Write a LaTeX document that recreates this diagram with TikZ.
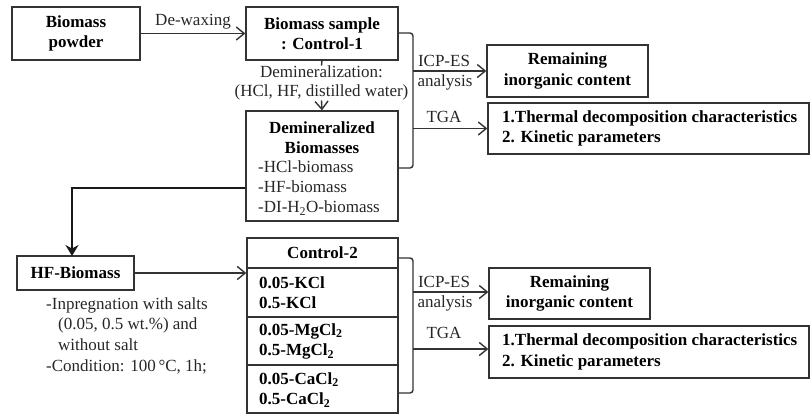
\documentclass[tikz,border=0pt]{standalone}
\usepackage{fontspec}
\setmainfont{Liberation Serif}
\usetikzlibrary{arrows.meta}
\begin{document}
\begin{tikzpicture}[x=1pt,y=-1pt,
  box/.style={draw=black!80, line width=1.3pt, inner sep=0pt},
  txt/.style={font=\fontsize{17}{20}\selectfont, inner sep=0pt, text=black!85},
  btxt/.style={font=\fontsize{17}{20.5}\selectfont\bfseries, inner sep=0pt},
  conn/.style={draw=black!80, line width=1.4pt},
  arr/.style={conn, -{Straight Barb[length=8pt,width=13pt,line width=1.4pt]}},
  bigarr/.style={draw=black!90, line width=2.2pt, -{Stealth[length=11pt,width=13pt]}},
  brace/.style={conn, rounded corners=3pt},
]
\useasboundingbox (0,0) rectangle (811,416);

% ---------- top part ----------
\node[box, btxt, align=center, minimum width=128pt, minimum height=53pt] (powder) at (76,33.5) {Biomass\\powder};
\node[box, btxt, align=center, minimum width=152pt, minimum height=53pt] (sample) at (322,33.5) {Biomass sample\\: Control-1};
\node[box, minimum width=152pt, minimum height=110pt] (demin) at (322,166) {};
\node[btxt, align=center] (deminhead) at (322,137.5) {Demineralized\\Biomasses};
\node[txt, align=left, anchor=west, font=\fontsize{17}{20}\selectfont] (deminlist) at (258,188) {-HCl-biomass\\-HF-biomass\\-DI-H\textsubscript{2}O-biomass};

\node[box, btxt, align=center, minimum width=161pt, minimum height=52pt] (rem1) at (567.5,71) {Remaining\\inorganic content};
\node[box, minimum width=321pt, minimum height=51pt] (therm1) at (648.5,128.5) {};
\node[btxt, align=left, anchor=west] (therm1t) at (502,128.5) {1.Thermal decomposition characteristics\\2. Kinetic parameters};

\draw[arr] (powder.east) -- (sample.west) node[txt, midway, above=4pt] (dewax) {De-waxing};

\node[txt, align=center, font=\fontsize{17}{19}\selectfont] (demtext) at (321.5,83) {Demineralization:\\(HCl, HF, distilled water)};
\draw[conn] (sample.south) -- (demtext.north);
\draw[arr] (demtext.south) -- (demin.north);

\coordinate (b1t) at (413,33);
\coordinate (b1b) at (413,168);
\draw[brace] (sample.east |- b1t) -- (b1t) -- (b1b) -- (demin.east |- b1b);
\coordinate (b1i) at (413,71);
\coordinate (b1g) at (413,128.5);
\draw[arr] (b1i) -- (rem1.west |- b1i);
\draw[arr] (b1g) -- (therm1.west |- b1g);
\node[txt] (icp1) at (444,61) {ICP-ES};
\node[txt] (ana1) at (445,82) {analysis};
\node[txt] (tga1) at (444,117) {TGA};

% ---------- bottom part ----------
\node[box, btxt, minimum width=117pt, minimum height=34pt] (hf) at (75.5,273) {HF-Biomass};
\coordinate (hfin) at (72,256);
\draw[bigarr] (demin.west |- 0,188) -| (hfin);

\node[txt, align=left, anchor=north west, font=\fontsize{17}{20.7}\selectfont] (hfnote) at (46,297)
  {-Inpregnation with salts\\\hspace*{12pt}(0.05, 0.5 wt.\%) and\\\hspace*{12pt}without salt\\-Condition: 100\,°C, 1h;};

\node[box, minimum width=151pt, minimum height=175pt] (ctrl2) at (322.5,325.5) {};
\draw[conn] (ctrl2.west |- 0,268) -- (ctrl2.east |- 0,268);
\draw[conn] (ctrl2.west |- 0,317) -- (ctrl2.east |- 0,317);
\draw[conn] (ctrl2.west |- 0,365) -- (ctrl2.east |- 0,365);
\node[btxt] (c2head) at (322.5,253) {Control-2};
\node[btxt, align=left, anchor=west] (row1) at (259,292.5) {0.05-KCl\\0.5-KCl};
\node[btxt, align=left, anchor=west] (row2) at (259,341.5) {0.05-MgCl\textsubscript{2}\\0.5-MgCl\textsubscript{2}};
\node[btxt, align=left, anchor=west] (row3) at (259,390) {0.05-CaCl\textsubscript{2}\\0.5-CaCl\textsubscript{2}};

\draw[arr] (hf.east) -- (ctrl2.west |- hf.east);

\node[box, btxt, align=center, minimum width=161pt, minimum height=51pt] (rem2) at (569.5,293.5) {Remaining\\inorganic content};
\node[box, minimum width=320pt, minimum height=52pt] (therm2) at (649,352) {};
\node[btxt, align=left, anchor=west] (therm2t) at (502,352) {1.Thermal decomposition characteristics\\2. Kinetic parameters};

\coordinate (b2t) at (413,258);
\coordinate (b2b) at (413,393);
\draw[brace] (ctrl2.east |- b2t) -- (b2t) -- (b2b) -- (ctrl2.east |- b2b);
\coordinate (b2i) at (413,292);
\coordinate (b2g) at (413,349);
\draw[arr] (b2i) -- (rem2.west |- b2i);
\draw[arr] (b2g) -- (therm2.west |- b2g);
\node[txt] (icp2) at (444,282) {ICP-ES};
\node[txt] (ana2) at (445,303) {analysis};
\node[txt] (tga2) at (444,333) {TGA};
\end{tikzpicture}
\end{document}
